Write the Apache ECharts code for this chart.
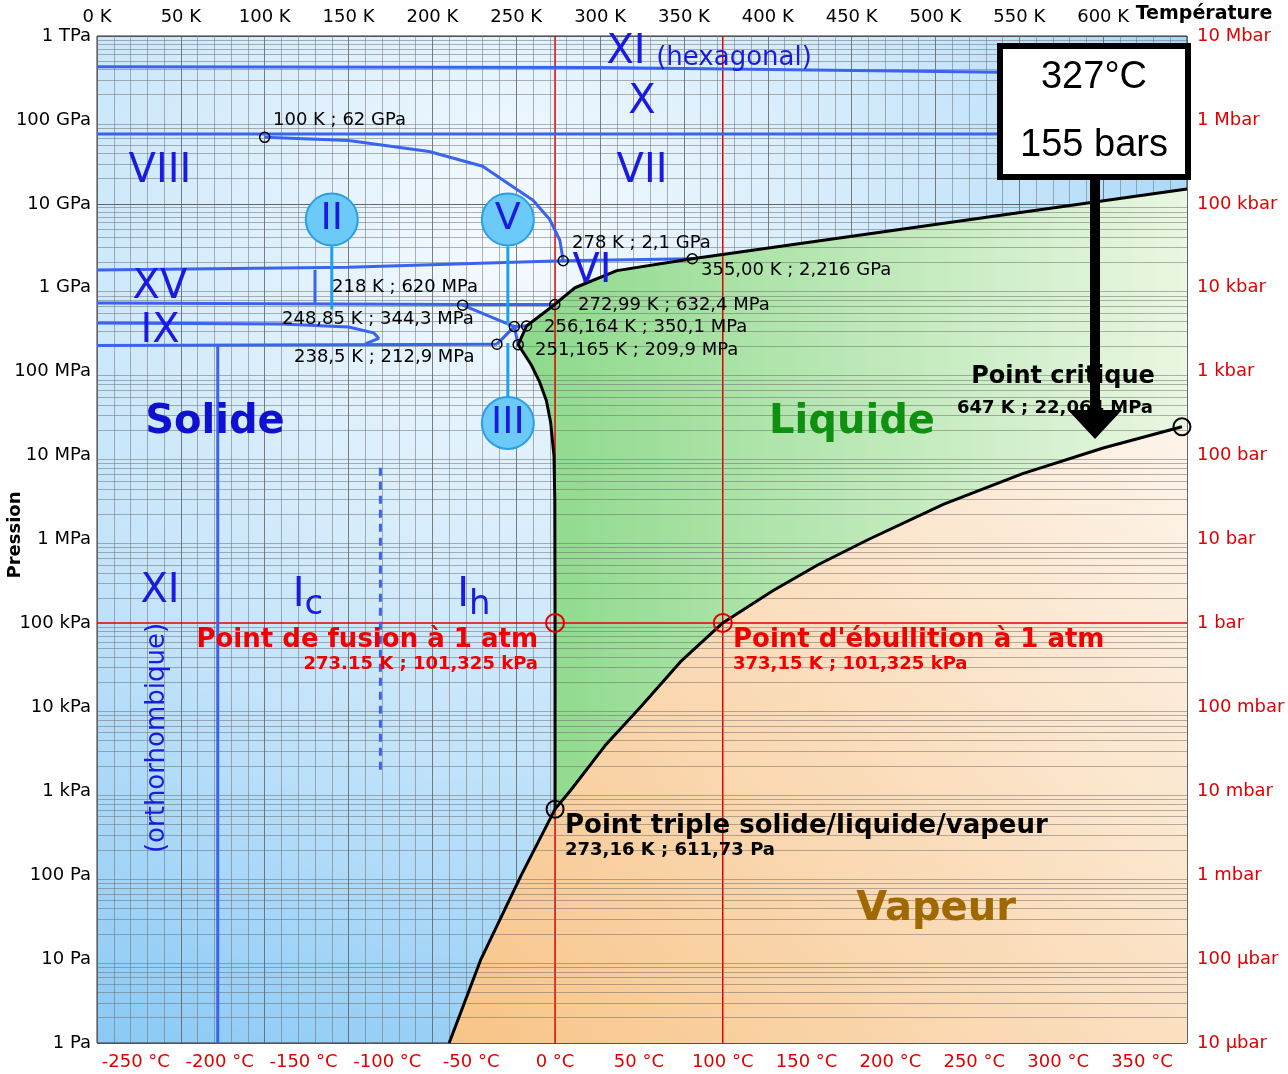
<!DOCTYPE html>
<html>
<head>
<meta charset="utf-8">
<script src="https://cdn.jsdelivr.net/npm/echarts@6/dist/echarts.min.js"></script>
<style>html,body{margin:0;padding:0;background:#fff}#chart{width:1288px;height:1074px}</style>
</head>
<body>
<div id="chart"></div>
<script>
// tick labels
var kelvinTicks = [0, 50, 100, 150, 200, 250, 300, 350, 400, 450, 500, 550, 600];
var celsiusTicks = [-250, -200, -150, -100, -50, 0, 50, 100, 150, 200, 250, 300, 350];
var pascalTicks = [1, 10, 100, 1e3, 1e4, 1e5, 1e6, 1e7, 1e8, 1e9, 1e10, 1e11, 1e12];
var pascalLabels = ['1 Pa', '10 Pa', '100 Pa', '1 kPa', '10 kPa', '100 kPa', '1 MPa', '10 MPa', '100 MPa', '1 GPa', '10 GPa', '100 GPa', '1 TPa'];
var barLabels = ['10 µbar', '100 µbar', '1 mbar', '10 mbar', '100 mbar', '1 bar', '10 bar', '100 bar', '1 kbar', '10 kbar', '100 kbar', '1 Mbar', '10 Mbar'];

// curves [K, Pa]
var sublimation = [[210, 1], [229, 10], [253, 100], [273.16, 611.73]];
var vaporisation = [[273.16, 611.73], [282, 1000], [303, 3500], [324, 1e4], [348, 3.5e4], [373.15, 101325], [403, 2.45e5], [430, 5e5], [460, 1e6], [505, 2.64e6], [552, 6.1e6], [600, 1.23e7], [647, 2.2064e7]];
var melting = [[273.16, 611.73], [273.15, 101325], [273, 3e6], [272.5, 1e7], [270.5, 2.5e7], [268, 4.5e7], [264, 7.5e7], [259, 1.2e8], [255, 1.6e8], [251.165, 2.099e8], [256.164, 3.501e8], [272.99, 6.324e8], [285, 1e9], [310, 1.6e9], [355, 2.216e9], [650, 1.5e10]];
var iceXIhX = [[0, 4.3e11], [300, 4.2e11], [540, 3.7e11], [650, 3.6e11]];
var iceXVII = [[0, 6.8e10], [650, 6.8e10]];
var iceVIIIVII = [[100, 6.2e10], [150, 5.7e10], [198, 4.2e10], [230, 2.8e10], [246, 1.7e10], [260, 1.1e10], [270, 6.5e9], [276, 3.7e9], [278, 2.1e9]];
var iceXVVIII = [[0, 1.63e9], [150, 1.75e9], [278, 2.1e9], [355, 2.216e9]];
var iceXVVI = [[0, 6.6e8], [218, 6.3e8], [272.99, 6.324e8]];
var iceXVwall = [[130, 1.63e9], [130, 6.6e8]];
var iceVIV = [[218, 6.2e8], [248.85, 3.443e8], [256.164, 3.501e8]];
var iceIIIII = [[238.5, 2.129e8], [248.85, 3.443e8], [251.165, 2.099e8]];
var iceIXloop = [[0, 3.8e8], [110, 3.7e8], [150, 3.4e8], [165, 2.9e8], [168, 2.5e8], [160, 2.15e8]];
var iceIhII = [[0, 2.05e8], [238.5, 2.129e8]];
var iceXIIh = [[72, 1], [72, 2.05e8]];
var iceIcIh = [[169, 1.8e3], [169, 7.8e6]];
var stems = [[[140, 3.1e9], [140, 5.5e8]], [[245, 3.1e9], [245, 3.6e8]], [[245, 2.2e8], [245, 4.6e7]]];
var bubbles = [[140, 6.5e9, 'II'], [245, 6.5e9, 'V'], [245, 2.45e7, 'III']];
var smallPoints = [[100, 6.2e10], [278, 2.1e9], [355, 2.216e9], [218, 6.2e8], [272.99, 6.324e8], [248.85, 3.443e8], [256.164, 3.501e8], [238.5, 2.129e8], [251.165, 2.099e8]];
var bigPoints = [[273.16, 611.73], [647, 2.2064e7]];
var atmPoints = [[273.15, 101325], [373.15, 101325]];

var liquidPoly = melting.concat([[650, 2.2064e7]]).concat(vaporisation.slice().reverse());
var vapourPoly = sublimation.concat(vaporisation.slice(1)).concat([[650, 2.2064e7], [650, 1]]);

// minor log grid lines 2..9 x 10^n
var minorPressure = [];
for (var n = 0; n < 12; n++) {
	for (var k = 2; k <= 9; k++) minorPressure.push({ yAxis: k * Math.pow(10, n) });
}

var chart = echarts.init(document.getElementById('chart'));
var FONT = 'DejaVu Sans';
var BLUE = '#1a1ae0';
var LINEBLUE = '#3a64f0';

function poly(points, fill) {
	return {
		type: 'custom', xAxisIndex: 0, yAxisIndex: 0, silent: true, z: 1,
		data: [0],
		renderItem: function(params, api) {
			return {
				type: 'polygon',
				shape: { points: points.map(function(p) { return api.coord(p); }) },
				style: { fill: fill }
			};
		}
	};
}
function line(data, color, width, type, z) {
	return {
		type: 'line', data: data, symbol: 'none', silent: true, z: z || 5,
		lineStyle: { color: color, width: width, type: type || 'solid' }
	};
}
function txt(x, y, text, size, color, opts) {
	opts = opts || {};
	return {
		type: 'text', x: x, y: y, z: 100, rotation: opts.rot || 0,
		style: {
			text: text, fill: color, font: (opts.bold ? 'bold ' : '') + size + 'px ' + (opts.font || FONT),
			align: opts.align || 'center', verticalAlign: 'middle', rich: opts.rich
		}
	};
}
function logIdx(v) { return Math.round(Math.log(v) / Math.LN10); }

var series = [
	poly(liquidPoly, new echarts.graphic.LinearGradient(0, 0, 1, 0, [{ offset: 0, color: '#8cd98a' }, { offset: 1, color: '#eaf7e2' }])),
	poly(vapourPoly, new echarts.graphic.LinearGradient(0, 1, 1, 0, [{ offset: 0, color: '#f8c488' }, { offset: 1, color: '#fdf4ea' }])),
	{
		type: 'line', data: [], silent: true, z: 2,
		markLine: { silent: true, symbol: 'none', label: { show: false }, animation: false,
			lineStyle: { color: '#6a6a6a', width: 1, type: 'solid', opacity: 0.5 }, data: minorPressure }
	},
	line([[273.15, 1], [273.15, 1e12]], '#e00000', 1.5, 'solid', 4),
	line([[373.15, 1], [373.15, 1e12]], '#e00000', 1.5, 'solid', 4),
	line([[0, 101325], [650, 101325]], '#e00000', 1.5, 'solid', 4),
	line(iceXIhX, LINEBLUE, 3), line(iceXVII, LINEBLUE, 3), line(iceVIIIVII, LINEBLUE, 3),
	line(iceXVVIII, LINEBLUE, 3), line(iceXVVI, LINEBLUE, 3), line(iceXVwall, LINEBLUE, 3),
	line(iceVIV, LINEBLUE, 3), line(iceIIIII, LINEBLUE, 3), line(iceIXloop, LINEBLUE, 3),
	line(iceIhII, LINEBLUE, 3), line(iceXIIh, LINEBLUE, 3), line(iceIcIh, LINEBLUE, 3, [8, 6]),
	line(sublimation, '#000', 3, 'solid', 6), line(vaporisation, '#000', 3, 'solid', 6), line(melting, '#000', 3, 'solid', 6)
];
stems.forEach(function(s) { series.push(line(s, '#1ea0f0', 3)); });
series.push({
	type: 'scatter', data: bubbles, symbolSize: 52, z: 8, silent: true,
	itemStyle: { color: '#6ccaf8', borderColor: '#2a9ee6', borderWidth: 2, opacity: 1 },
	label: { show: true, position: 'inside', formatter: function(p) { return p.data[2]; }, color: BLUE, fontSize: 38, fontFamily: FONT }
});
series.push({
	type: 'scatter', data: smallPoints, symbolSize: 10, z: 9, silent: true,
	itemStyle: { color: 'rgba(0,0,0,0)', borderColor: '#000', borderWidth: 1.5, opacity: 1 }
});
series.push({
	type: 'scatter', data: bigPoints, symbolSize: 17, z: 9, silent: true,
	itemStyle: { color: 'rgba(0,0,0,0)', borderColor: '#000', borderWidth: 2, opacity: 1 }
});
series.push({
	type: 'scatter', data: atmPoints, symbolSize: 18, z: 9, silent: true,
	itemStyle: { color: 'rgba(0,0,0,0)', borderColor: '#e00000', borderWidth: 2, opacity: 1 }
});

var axisLabelStyle = { fontFamily: FONT, fontSize: 18 };

var option = {
	animation: false,
	backgroundColor: '#fff',
	grid: {
		left: 97, right: 101, top: 36, bottom: 31, show: true, z: 0,
		outerBoundsMode: 'none', containLabel: false,
		borderColor: '#333', borderWidth: 1,
		backgroundColor: new echarts.graphic.RadialGradient(0.38, 0.2, 0.95, [
			{ offset: 0, color: '#f6fbff' }, { offset: 0.55, color: '#c2e3fa' }, { offset: 1, color: '#82c5f4' }])
	},
	xAxis: [{
		type: 'value', position: 'top', min: 0, max: 650, interval: 50,
		axisLine: { show: false }, axisTick: { show: false },
		axisLabel: Object.assign({ customValues: kelvinTicks, color: '#000', margin: 10, formatter: function(v) { return v + ' K'; } }, axisLabelStyle),
		splitLine: { show: true, lineStyle: { color: '#555', width: 1, opacity: 0.75 } },
		minorTick: { show: false, splitNumber: 5 },
		minorSplitLine: { show: true, lineStyle: { color: '#6a6a6a', width: 1, opacity: 0.5 } }
	}, {
		type: 'value', position: 'bottom', min: -273.15, max: 376.85,
		axisLine: { show: false }, axisTick: { show: false }, splitLine: { show: false },
		axisLabel: Object.assign({ customValues: celsiusTicks, color: '#e00000', margin: 10, formatter: function(v) { return v + ' °C'; } }, axisLabelStyle)
	}],
	yAxis: [{
		type: 'log', logBase: 10, min: 1, max: 1e12, splitNumber: 12,
		axisLine: { show: false }, axisTick: { show: false },
		axisLabel: Object.assign({ customValues: pascalTicks, color: '#000', margin: 6, formatter: function(v) { return pascalLabels[logIdx(v)]; } }, axisLabelStyle),
		splitLine: { show: true, lineStyle: { color: '#444', width: 1, opacity: 0.8 } },
		minorSplitLine: { show: false }
	}, {
		type: 'log', logBase: 10, min: 1, max: 1e12, splitNumber: 12, position: 'right',
		axisLine: { show: false }, axisTick: { show: false }, splitLine: { show: false },
		axisLabel: Object.assign({ customValues: pascalTicks, color: '#e00000', margin: 10, formatter: function(v) { return barLabels[logIdx(v)]; } }, axisLabelStyle)
	}],
	series: series,
	graphic: [
		txt(15, 535, 'Pression', 18, '#000', { bold: true, rot: Math.PI / 2 }),
		txt(1204, 14, 'Température', 19, '#000', { bold: true }),
		txt(626, 53, 'XI', 40, BLUE),
		txt(734, 58, '(hexagonal)', 26, BLUE),
		txt(642, 103, 'X', 40, BLUE),
		txt(160, 172, 'VIII', 40, BLUE),
		txt(642, 172, 'VII', 40, BLUE),
		txt(160, 288, 'XV', 40, BLUE),
		txt(160, 332, 'IX', 40, BLUE),
		txt(592, 272, 'VI', 40, BLUE),
		txt(215, 423, 'Solide', 40, '#1010d0', { bold: true }),
		txt(852, 423, 'Liquide', 40, '#109010', { bold: true }),
		txt(936, 910, 'Vapeur', 40, '#a06800', { bold: true }),
		txt(160, 592, 'XI', 40, BLUE),
		txt(157, 738, '(orthorhombique)', 26, BLUE, { rot: Math.PI / 2 }),
		txt(308, 596, '{a|I}{b|c}', 40, BLUE, { rich: { a: { fontSize: 40, fill: BLUE, fontFamily: FONT }, b: { fontSize: 34, fill: BLUE, fontFamily: FONT, padding: [18, 0, 0, 0] } } }),
		txt(474, 596, '{a|I}{b|h}', 40, BLUE, { rich: { a: { fontSize: 40, fill: BLUE, fontFamily: FONT }, b: { fontSize: 34, fill: BLUE, fontFamily: FONT, padding: [18, 0, 0, 0] } } }),
		txt(273, 120, '100 K ; 62 GPa', 18, '#000', { align: 'left' }),
		txt(572, 243, '278 K ; 2,1 GPa', 18, '#000', { align: 'left' }),
		txt(701, 270, '355,00 K ; 2,216 GPa', 18, '#000', { align: 'left' }),
		txt(332, 287, '218 K ; 620 MPa', 18, '#000', { align: 'left' }),
		txt(282, 319, '248,85 K ; 344,3 MPa', 18, '#000', { align: 'left' }),
		txt(578, 305, '272,99 K ; 632,4 MPa', 18, '#000', { align: 'left' }),
		txt(544, 327, '256,164 K ; 350,1 MPa', 18, '#000', { align: 'left' }),
		txt(294, 357, '238,5 K ; 212,9 MPa', 18, '#000', { align: 'left' }),
		txt(535, 350, '251,165 K ; 209,9 MPa', 18, '#000', { align: 'left' }),
		txt(1063, 377, 'Point critique', 24, '#000', { bold: true }),
		txt(1055, 408, '647 K ; 22,064 MPa', 18, '#000', { bold: true }),
		txt(538, 640, 'Point de fusion à 1 atm', 26, '#f00000', { bold: true, align: 'right' }),
		txt(538, 664, '273.15 K ; 101,325 kPa', 18, '#f00000', { bold: true, align: 'right' }),
		txt(733, 640, "Point d'ébullition à 1 atm", 26, '#f00000', { bold: true, align: 'left' }),
		txt(733, 664, '373,15 K ; 101,325 kPa', 18, '#f00000', { bold: true, align: 'left' }),
		txt(565, 826, 'Point triple solide/liquide/vapeur', 26, '#000', { bold: true, align: 'left' }),
		txt(565, 850, '273,16 K ; 611,73 Pa', 18, '#000', { bold: true, align: 'left' }),
		{ type: 'rect', z: 90, shape: { x: 1090, y: 176, width: 10, height: 238 }, style: { fill: '#000' } },
		{ type: 'polygon', z: 90, shape: { points: [[1068, 410], [1122, 410], [1095, 439]] }, style: { fill: '#000' } },
		{ type: 'rect', z: 95, shape: { x: 1000, y: 46, width: 188, height: 131 }, style: { fill: '#fff', stroke: '#000', lineWidth: 6 } },
		txt(1094, 78, '327°C', 38, '#000', { font: 'Liberation Sans' }),
		txt(1094, 146, '155 bars', 38, '#000', { font: 'Liberation Sans' })
	]
};
chart.setOption(option);
</script>
</body>
</html>
